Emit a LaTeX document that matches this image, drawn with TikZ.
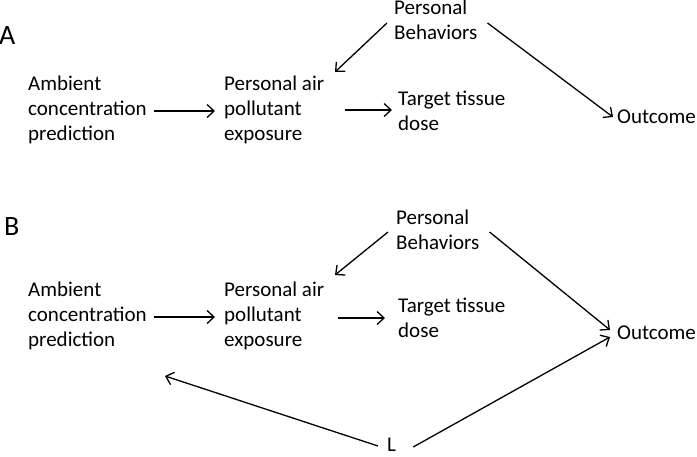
\documentclass[tikz,border=0pt]{standalone}
\usepackage{fontspec}
\setmainfont{Carlito}
\usetikzlibrary{arrows.meta}

\tikzset{
  lbl/.style={inner sep=0, anchor=west, align=left, font=\fontsize{21}{25}\selectfont},
  panel/.style={inner sep=0, anchor=west, font=\fontsize{28}{30}\selectfont},
  arr/.style={-{Straight Barb[length=7pt,width=13pt]}, line width=1.3pt}
}

\begin{document}
\begin{tikzpicture}[x=1pt,y=-1pt]
  \useasboundingbox (0,0) rectangle (697,456);
  % panel A
  \node[panel] (labA) at (-1,36) {A};
  \node[lbl] (ambA) at (28,110) {Ambient\\concentration\\prediction};
  \node[lbl] (paeA) at (224,110) {Personal air\\pollutant\\exposure};
  \node[lbl] (pbA) at (394,20) {Personal\\Behaviors};
  \node[lbl] (ttdA) at (398,111) {Target tissue\\dose};
  \node[lbl] (outA) at (617,117) {Outcome};
  \draw[arr] ([xshift=7pt,yshift=-1pt]ambA.east) -- ([xshift=-9pt,yshift=-1pt]paeA.west);
  \draw[arr] ([xshift=-7pt,yshift=-3pt]pbA.west) -- ([xshift=111pt,yshift=38pt]paeA.west);
  \draw[arr] ([xshift=10pt,yshift=-3pt]pbA.east) -- ([xshift=-4pt]outA.west);
  \draw[arr] ([xshift=-53pt,yshift=1pt]ttdA.west) -- ([xshift=-6pt,yshift=1pt]ttdA.west);

  % panel B
  \node[panel] (labB) at (4,227) {B};
  \node[lbl] (ambB) at (28,316) {Ambient\\concentration\\prediction};
  \node[lbl] (paeB) at (224,316) {Personal air\\pollutant\\exposure};
  \node[lbl] (pbB) at (396,229.5) {Personal\\Behaviors};
  \node[lbl] (ttdB) at (398,317.5) {Target tissue\\dose};
  \node[lbl] (outB) at (617,333) {Outcome};
  \node[lbl] (lB) at (387,445) {L};
  \draw[arr] ([xshift=7pt,yshift=-1pt]ambB.east) -- ([xshift=-9pt,yshift=-1pt]paeB.west);
  \draw[arr] ([xshift=-8pt,yshift=-2.5pt]pbB.west) -- ([xshift=111pt,yshift=41pt]paeB.west);
  \draw[arr] ([xshift=10pt,yshift=-2.5pt]pbB.east) -- ([xshift=-7pt,yshift=3pt]outB.west);
  \draw[arr] ([xshift=-60pt,yshift=-0.5pt]ttdB.west) -- ([xshift=-13pt,yshift=-0.5pt]ttdB.west);
  \draw[arr] ([xshift=-9pt,yshift=-1pt]lB.west) -- ([xshift=137pt,yshift=-60pt]ambB.west);
  \draw[arr] ([xshift=17pt,yshift=-2pt]lB.east) -- ([xshift=-7pt,yshift=-4pt]outB.west);
\end{tikzpicture}
\end{document}
